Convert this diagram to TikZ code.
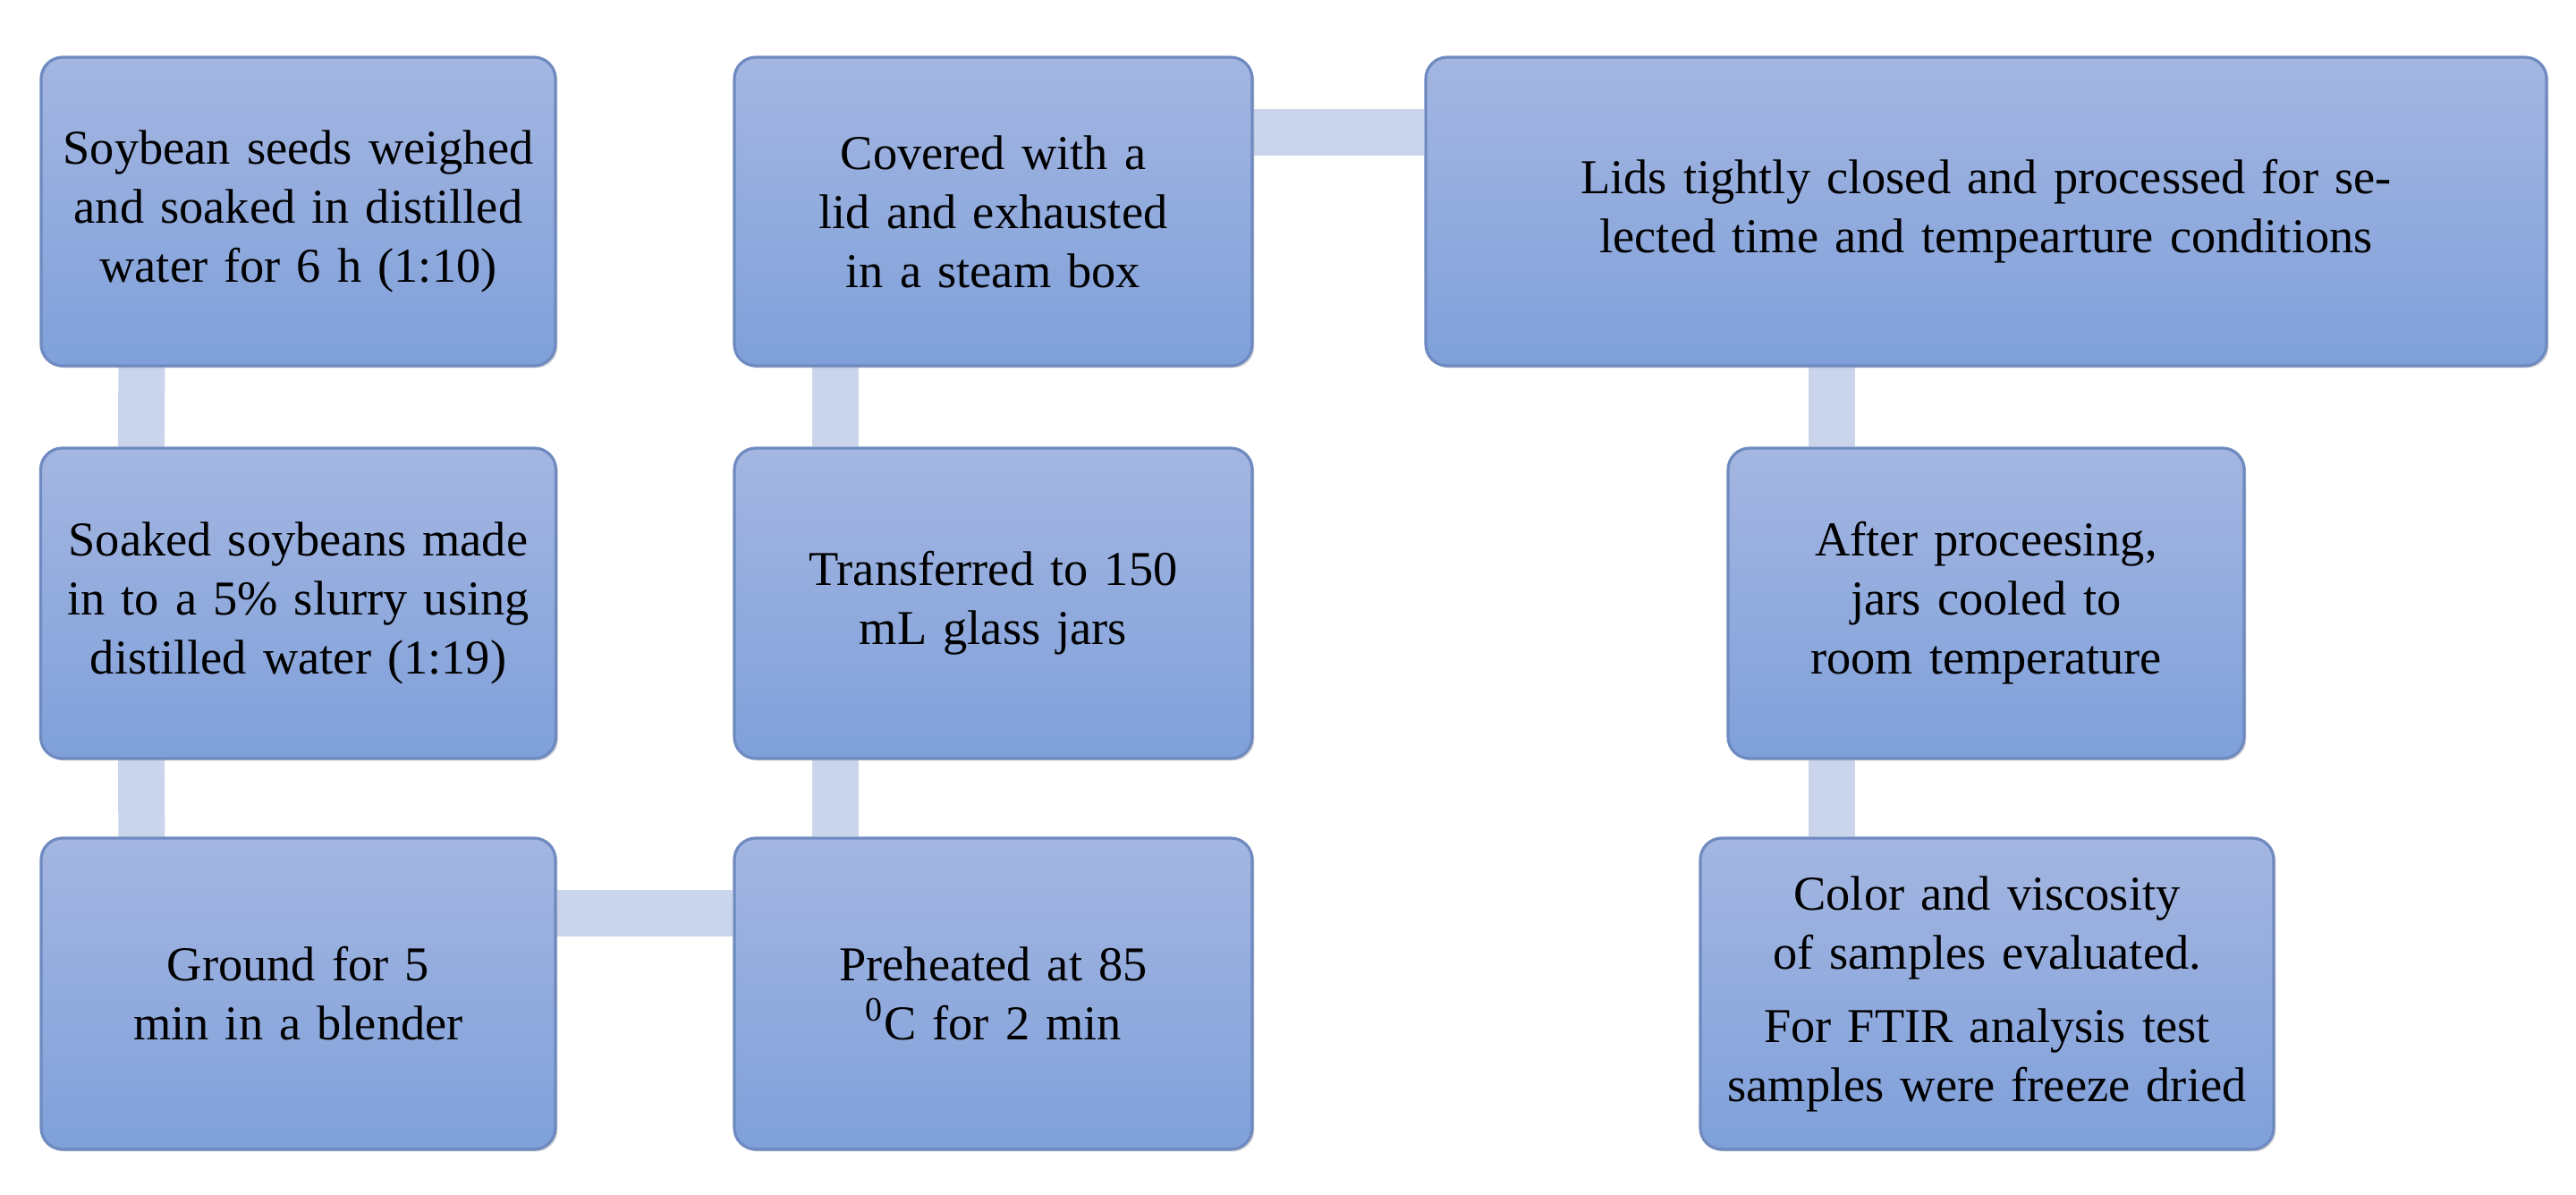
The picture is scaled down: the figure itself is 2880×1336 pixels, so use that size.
\documentclass[tikz,border=0pt]{standalone}
\usepackage{fontspec}
\setmainfont{Liberation Serif}
\usetikzlibrary{shadows,backgrounds}
\definecolor{topc}{HTML}{A4B6E1}
\definecolor{botc}{HTML}{7FA0DA}
\definecolor{edge}{HTML}{6E8AC0}
\definecolor{link}{HTML}{CAD5EC}
\begin{document}
\begin{tikzpicture}[x=0.25pt,y=-0.25pt,
  box/.style={draw=edge,line width=0.8pt,rounded corners=6pt,top color=topc,bottom color=botc,
    drop shadow={shadow xshift=0.6pt,shadow yshift=-0.6pt,opacity=0.35},
    align=center,font=\fontsize{13.6}{16.5}\selectfont,inner sep=3pt},
  conn/.style={draw=link,line width=13pt}]
\useasboundingbox (0,0) rectangle (2880,1336);
\node[box,minimum width=143.75pt,minimum height=86.25pt,text width=136pt] (b1) at (333.5,236.5)
  {Soybean seeds weighed and soaked in distilled water for 6 h (1:10)};
\node[box,minimum width=143.75pt,minimum height=86.75pt,text width=138pt] (b2) at (333.5,674.5)
  {Soaked soybeans made in to a 5\% slurry using distilled water (1:19)};
\node[box,minimum width=143.75pt,minimum height=87pt,text width=136pt] (b3) at (333.5,1111)
  {Ground for 5 min in a blender};
\node[box,minimum width=144.75pt,minimum height=87pt,text width=136pt] (b4) at (1110.5,1111)
  {Preheated at 85 \textsuperscript{0}C for 2 min};
\node[box,minimum width=144.75pt,minimum height=86.75pt,text width=136pt] (b5) at (1110.5,674.5)
  {Transferred to 150 mL glass jars};
\node[box,minimum width=144.75pt,minimum height=86.25pt,text width=136pt] (b6) at (1110.5,236.5)
  {Covered with a lid and exhausted in a steam box};
\node[box,minimum width=313.25pt,minimum height=86.25pt,text width=305pt] (b7) at (2220.5,236.5)
  {Lids tightly closed and processed for selected time and tempearture conditions};
\node[box,minimum width=144.25pt,minimum height=86.75pt,text width=136pt] (b8) at (2220.5,674.5)
  {After proceesing, jars cooled to room temperature};
\node[box,minimum width=160.25pt,minimum height=87pt,text width=154pt,inner sep=1pt] (b9) at (2221.5,1111)
  {Color and viscosity of samples evaluated.\\[4pt] For FTIR analysis test samples were freeze dried};
\begin{scope}[on background layer]
\draw[conn] ([xshift=28.5pt]b1.south west) -- ([xshift=28.5pt]b2.north west);
\draw[conn] ([xshift=28.5pt]b2.south west) -- ([xshift=28.5pt]b3.north west);
\draw[conn] ([yshift=22.5pt]b3.east) -- ([yshift=22.5pt]b4.west);
\draw[conn] ([xshift=28.75pt]b4.north west) -- ([xshift=28.75pt]b5.south west);
\draw[conn] ([xshift=28.75pt]b5.north west) -- ([xshift=28.75pt]b6.south west);
\draw[conn] ([yshift=22pt]b6.east) -- ([yshift=22pt]b7.west);
\draw[conn] ([xshift=29.5pt]b8.north west) -- ([xshift=29.5pt]b8.north west |- b7.south);
\draw[conn] ([xshift=29.5pt]b8.south west) -- ([xshift=29.5pt]b8.south west |- b9.north);
\end{scope}
\end{tikzpicture}
\end{document}
